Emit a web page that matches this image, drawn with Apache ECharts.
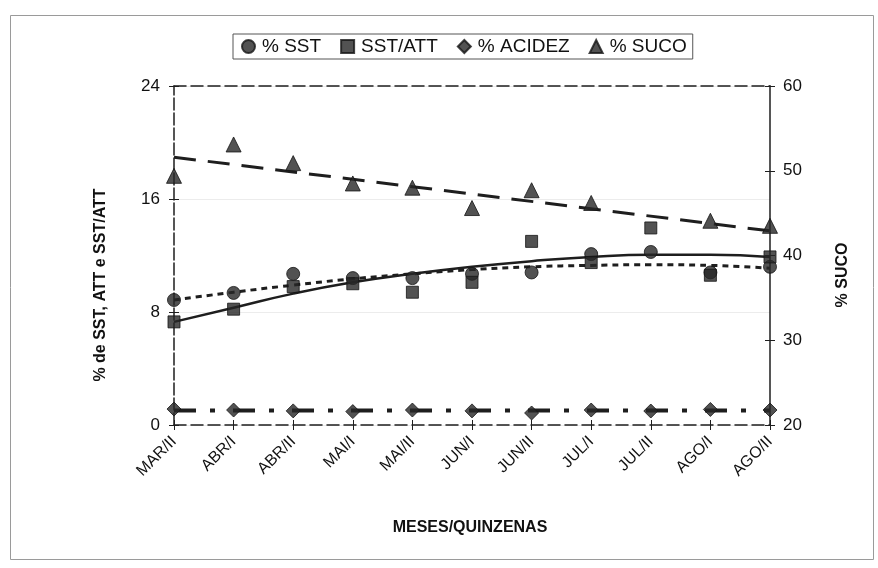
<!DOCTYPE html>
<html>
<head>
<meta charset="utf-8">
<script src="https://cdn.jsdelivr.net/npm/echarts@6/dist/echarts.min.js"></script>
<style>
html,body{margin:0;padding:0;background:#fff;}
#chart{width:878px;height:568px;}
</style>
</head>
<body>
<div id="chart"></div>
<script>
// ---- data ----
var categories = ['MAR/II','ABR/I','ABR/II','MAI/I','MAI/II','JUN/I','JUN/II','JUL/I','JUL/II','AGO/I','AGO/II'];
var sst      = [8.85, 9.35, 10.7, 10.4, 10.4, 10.7, 10.8, 12.1, 12.25, 10.8, 11.2];
var sstAtt   = [7.3, 8.2, 9.8, 10.0, 9.4, 10.1, 13.0, 11.5, 13.95, 10.6, 11.9];
var acidez   = [1.13, 1.06, 1.0, 0.95, 1.06, 1.0, 0.85, 1.06, 0.99, 1.1, 1.06];
var suco     = [49.4, 53.1, 50.9, 48.5, 48.0, 45.6, 47.7, 46.2, null, 44.1, 43.5];
// trend lines
var sstTrend    = [8.85, 9.4, 9.9, 10.35, 10.7, 11.0, 11.2, 11.3, 11.35, 11.3, 11.1];
var sstAttTrend = [7.3, 8.3, 9.3, 10.1, 10.7, 11.2, 11.6, 11.9, 12.05, 12.05, 11.9];
var acidezTrend = [1.03, null, null, null, null, null, null, null, null, null, 1.03];
var sucoTrend   = [51.6, null, null, null, null, null, null, null, null, null, 42.9];
var leftTicks  = {min: 0, max: 24, interval: 8};
var rightTicks = {min: 20, max: 60, interval: 10};

var FONT = "'Liberation Sans', Arial, sans-serif";
var MARK = '#272727';
var LINE = '#1e1e1e';

var chart = echarts.init(document.getElementById('chart'), null, {renderer: 'canvas'});

function yAx(pos, t, main, inside) {
  return {
    type: 'value', position: pos, min: t.min, max: t.max, interval: t.interval,
    axisLine: {show: main, lineStyle: {color: LINE, width: 1.5, type: pos === 'left' ? [12, 3] : 'solid'}},
    axisTick: {show: true, inside: inside, length: 5, lineStyle: {color: LINE, width: 1}},
    axisLabel: {show: main, color: '#111', fontSize: 17, fontFamily: FONT, margin: pos === 'left' ? 14 : 13},
    splitLine: {show: main && pos === 'left', lineStyle: {color: '#ececec', width: 1}}
  };
}

var option = {
  backgroundColor: '#fff',
  animation: false,
  grid: {left: 174, right: 108, top: 86, bottom: 143, containLabel: false},
  legend: {
    left: 233, top: 34,
    padding: [3, 6, 3, 8],
    borderColor: '#555', borderWidth: 1,
    itemWidth: 13, itemHeight: 13, itemGap: 19,
    textStyle: {color: '#111', fontSize: 19, fontFamily: FONT, padding: [0, 0, 0, 2]},
    data: [
      {name: '% SST', icon: 'circle'},
      {name: 'SST/ATT', icon: 'rect'},
      {name: '% ACIDEZ', icon: 'diamond'},
      {name: '% SUCO', icon: 'triangle'}
    ]
  },
  xAxis: [
    {
      type: 'category', data: categories, boundaryGap: false, position: 'bottom',
      axisLine: {show: true, lineStyle: {color: LINE, width: 1.5, type: [12, 5]}},
      axisTick: {show: true, length: 5, lineStyle: {color: LINE}},
      axisLabel: {rotate: 45, color: '#111', fontSize: 16, fontFamily: FONT, margin: 14, interval: 0}
    },
    {
      type: 'category', data: categories, boundaryGap: false, position: 'bottom',
      axisLine: {show: false}, axisTick: {show: true, inside: true, length: 5, lineStyle: {color: LINE}},
      axisLabel: {show: false}, splitLine: {show: false}
    },
    {
      type: 'category', data: categories, boundaryGap: false, position: 'top',
      axisLine: {show: true, lineStyle: {color: LINE, width: 1.5, type: [12, 5]}},
      axisTick: {show: false}, axisLabel: {show: false}, splitLine: {show: false}
    }
  ],
  yAxis: [
    yAx('left', leftTicks, true, false),
    yAx('right', rightTicks, true, false),
    yAx('left', leftTicks, false, true),
    yAx('right', rightTicks, false, true)
  ],
  series: [
    {name: 'sstTrend', type: 'line', data: sstTrend, smooth: true, showSymbol: false, silent: true,
     lineStyle: {color: LINE, width: 3, type: [6, 5]}, z: 2},
    {name: 'sstAttTrend', type: 'line', data: sstAttTrend, smooth: true, showSymbol: false, silent: true,
     lineStyle: {color: LINE, width: 2.5, type: 'solid'}, z: 2},
    {name: 'acidezTrend', type: 'line', data: acidezTrend, connectNulls: true, showSymbol: false, silent: true,
     lineStyle: {color: LINE, width: 4, type: [22, 14, 5, 18]}, z: 2},
    {name: 'sucoTrend', type: 'line', data: sucoTrend, connectNulls: true, yAxisIndex: 1, showSymbol: false, silent: true,
     lineStyle: {color: LINE, width: 3, type: [22, 12]}, z: 2},
    {name: '% SST', type: 'scatter', data: sst, symbol: 'circle', symbolSize: 13,
     itemStyle: {color: MARK, borderColor: '#151515', borderWidth: 1}, z: 3},
    {name: 'SST/ATT', type: 'scatter', data: sstAtt, symbol: 'rect', symbolSize: 12,
     itemStyle: {color: MARK, borderColor: '#151515', borderWidth: 1}, z: 3},
    {name: '% ACIDEZ', type: 'scatter', data: acidez, symbol: 'diamond', symbolSize: 14,
     itemStyle: {color: MARK, borderColor: '#151515', borderWidth: 1}, z: 3},
    {name: '% SUCO', type: 'scatter', data: suco, yAxisIndex: 1, symbol: 'triangle', symbolSize: 15,
     itemStyle: {color: MARK, borderColor: '#151515', borderWidth: 1}, z: 3}
  ],
  graphic: [
    {type: 'rect', left: 8, top: 13, shape: {x: 0, y: 0, width: 863, height: 544},
     style: {fill: 'none', stroke: '#9a9a9a', lineWidth: 1}, z: -10, silent: true},
    {type: 'text', x: 101, y: 285, rotation: Math.PI / 2,
     style: {text: '% de SST, ATT e SST/ATT', fill: '#111', font: 'bold 16px ' + FONT, textAlign: 'center', textVerticalAlign: 'middle'}},
    {type: 'text', x: 843, y: 275, rotation: Math.PI / 2,
     style: {text: '% SUCO', fill: '#111', font: 'bold 16px ' + FONT, textAlign: 'center', textVerticalAlign: 'middle'}},
    {type: 'text', x: 470, y: 528,
     style: {text: 'MESES/QUINZENAS', fill: '#111', font: "bold 16px 'Liberation Sans Narrow', " + FONT, textAlign: 'center', textVerticalAlign: 'middle'}}
  ]
};
chart.setOption(option);
</script>
</body>
</html>
